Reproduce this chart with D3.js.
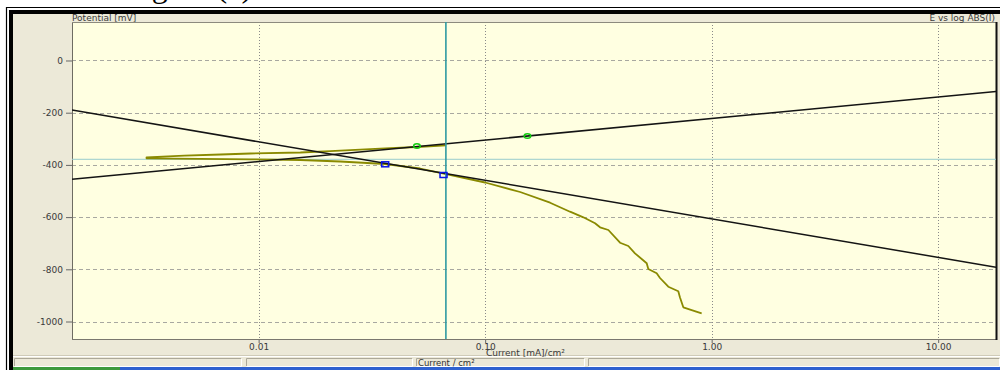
<!DOCTYPE html>
<html>
<head>
<meta charset="utf-8">
<script src="https://cdn.jsdelivr.net/npm/d3@7"></script>
<style>
  html, body { margin: 0; padding: 0; background: #ffffff; }
  svg { display: block; }
  .tick text { font-family: "DejaVu Sans", Verdana, sans-serif; font-size: 9px; fill: #3a3a3a; }
</style>
</head>
<body>
<svg id="chart" width="1000" height="370"></svg>
<script>
// Measured polarization curve: current density (mA/cm²) and potential (mV),
// running from the cathodic end up through the corrosion region to the anodic end.
const curveCurrent = [0.9034, 0.8161, 0.7497, 0.7248, 0.7123, 0.6436, 0.5915, 0.5718, 0.5252, 0.5167,
  0.4587, 0.4286, 0.3940, 0.3499, 0.3216, 0.3056, 0.2714, 0.2370, 0.1935, 0.1427,
  0.1000, 0.0673, 0.0516, 0.0362, 0.0229, 0.0153, 0.0092, 0.0055, 0.0032,
  0.0032, 0.0047, 0.0068, 0.0092, 0.0153, 0.0207, 0.0281, 0.0362, 0.0500, 0.0673];
const curvePotential = [-968.6, -956.0, -945.6, -908.0, -883.9, -866.7, -833.3, -815.3, -798.9, -777.0,
  -738.7, -710.7, -698.1, -649.4, -639.1, -623.8, -600.8, -579.3, -544.8, -503.8,
  -467.4, -434.9, -413.8, -396.6, -387.0, -381.2, -378.5, -376.6, -374.7,
  -370.9, -364.8, -360.2, -356.3, -352.5, -347.5, -341.8, -336.4, -331.4, -324.9];

// Tafel fit lines, given by their end points across the current range
const anodicCurrent = [0.0015, 18];
const anodicPotential = [-455, -119];
const cathodicCurrent = [0.0015, 18];
const cathodicPotential = [-190, -792];

// Points used for the fits
const anodicPointCurrent = [0.0500, 0.1537];
const anodicPointPotential = [-327.6, -289.3];
const cathodicPointCurrent = [0.0362, 0.0655];
const cathodicPointPotential = [-397.7, -438.7];

// Cursor lines
const cursorCurrent = [0.0671];
const cursorPotential = [-378.5];

// Axis ticks
const potentialTicks = [0, -200, -400, -600, -800, -1000];
const currentTicks = [0.01, 0.1, 1, 10];
const currentTickLabels = ["0.01", "0.10", "1.00", "10.00"];

const svg = d3.select("#chart");

// Page caption (only its lower edge lies inside the frame)
svg.append("text").attr("x", 125).attr("y", -3)
  .attr("font-family", "'Liberation Serif', 'Times New Roman', serif")
  .attr("font-size", 32).attr("fill", "#000").text("Figure (c)");

// Window frame
svg.append("line").attr("x1", 6).attr("x2", 1000).attr("y1", 7.5).attr("y2", 7.5).attr("stroke", "#000").attr("stroke-width", 1.2);
svg.append("line").attr("x1", 6.5).attr("x2", 6.5).attr("y1", 7).attr("y2", 370).attr("stroke", "#000").attr("stroke-width", 1.2);
svg.append("rect").attr("x", 9).attr("y", 10).attr("width", 991).attr("height", 360).attr("fill", "#000");
svg.append("rect").attr("x", 13).attr("y", 14).attr("width", 987).attr("height", 353).attr("fill", "#ece9d8");

// Status bar
svg.append("line").attr("x1", 13).attr("x2", 1000).attr("y1", 355.5).attr("y2", 355.5).attr("stroke", "#cfcbb8");
svg.append("line").attr("x1", 13).attr("x2", 1000).attr("y1", 356.5).attr("y2", 356.5).attr("stroke", "#ffffff");
const panels = [[14, 242], [246, 413], [416, 585], [588, 1000]];
panels.forEach(([a, b]) => {
  svg.append("path").attr("d", `M${a + 0.5},366 V358.5 H${b - 0.5}`).attr("fill", "none").attr("stroke", "#aca899");
  svg.append("path").attr("d", `M${b - 0.5},358.5 V366.5 H${a + 0.5}`).attr("fill", "none").attr("stroke", "#ffffff");
});
svg.append("text").attr("x", 418).attr("y", 365.5)
  .attr("font-family", "'DejaVu Sans', Verdana, sans-serif").attr("font-size", 8.5).attr("fill", "#333")
  .text("Current / cm²");
svg.append("rect").attr("x", 13).attr("y", 367).attr("width", 107).attr("height", 3).attr("fill", "#3d9a3d");
svg.append("rect").attr("x", 120).attr("y", 367).attr("width", 880).attr("height", 3).attr("fill", "#2f62d0");

// Plot area
const plot = { left: 72, right: 996, top: 22, bottom: 339 };
const x = d3.scaleLog().domain([0.0015, 18]).range([plot.left, plot.right]);
const y = d3.scaleLinear().domain([-1067, 147.5]).range([plot.bottom, plot.top]);

svg.append("rect").attr("x", plot.left).attr("y", plot.top)
  .attr("width", plot.right - plot.left).attr("height", plot.bottom - plot.top)
  .attr("fill", "#ffffe1");

svg.append("defs").append("clipPath").attr("id", "plotClip")
  .append("rect").attr("x", plot.left).attr("y", plot.top)
  .attr("width", plot.right - plot.left).attr("height", plot.bottom - plot.top);

// Grid
const grid = svg.append("g");
grid.selectAll("line.h").data(potentialTicks).join("line")
  .attr("x1", plot.left).attr("x2", plot.right)
  .attr("y1", d => Math.round(y(d)) + 0.5).attr("y2", d => Math.round(y(d)) + 0.5)
  .attr("stroke", "#a8a8a0").attr("stroke-dasharray", "4,3");
grid.selectAll("line.v").data(currentTicks).join("line")
  .attr("x1", d => Math.round(x(d)) + 0.5).attr("x2", d => Math.round(x(d)) + 0.5)
  .attr("y1", plot.top).attr("y2", plot.bottom)
  .attr("stroke", "#8a8a8a").attr("stroke-dasharray", "1,2");

// Axes
const yAxis = svg.append("g").attr("transform", `translate(${plot.left},0)`)
  .call(d3.axisLeft(y).tickValues(potentialTicks).tickSize(6).tickPadding(3).tickFormat(d => String(d)));
yAxis.select(".domain").remove();
yAxis.selectAll(".tick line").attr("stroke", "#666");

const xAxis = svg.append("g").attr("transform", `translate(0,${plot.bottom})`)
  .call(d3.axisBottom(x).tickValues(currentTicks).tickSize(4).tickPadding(1)
    .tickFormat((d, i) => currentTickLabels[i]));
xAxis.select(".domain").remove();
xAxis.selectAll(".tick line").attr("stroke", "#666");

// Plot frame
svg.append("line").attr("x1", plot.left + 0.5).attr("x2", plot.left + 0.5).attr("y1", plot.top).attr("y2", plot.bottom + 1).attr("stroke", "#6e6c62");
svg.append("line").attr("x1", plot.left).attr("x2", plot.right).attr("y1", plot.top + 0.5).attr("y2", plot.top + 0.5).attr("stroke", "#8c8a7e");
svg.append("line").attr("x1", plot.left).attr("x2", plot.right).attr("y1", plot.bottom + 0.5).attr("y2", plot.bottom + 0.5).attr("stroke", "#7a786e");
svg.append("line").attr("x1", plot.right + 0.5).attr("x2", plot.right + 0.5).attr("y1", plot.top).attr("y2", plot.bottom + 1).attr("stroke", "#111").attr("stroke-width", 2);

// Titles
const labelFont = "'DejaVu Sans', Verdana, sans-serif";
svg.append("text").attr("x", plot.left).attr("y", 20.5)
  .attr("font-family", labelFont).attr("font-size", 9).attr("fill", "#3a3a3a").text("Potential [mV]");
svg.append("text").attr("x", 995).attr("y", 20.5).attr("text-anchor", "end")
  .attr("font-family", labelFont).attr("font-size", 9).attr("fill", "#3a3a3a").text("E vs log ABS(I)");
svg.append("text").attr("x", 486).attr("y", 356)
  .attr("font-family", labelFont).attr("font-size", 9).attr("fill", "#3a3a3a").text("Current [mA]/cm²");

// Data layer
const layer = svg.append("g").attr("clip-path", "url(#plotClip)");

// Cursors
layer.append("line").attr("x1", plot.left).attr("x2", plot.right)
  .attr("y1", y(cursorPotential[0])).attr("y2", y(cursorPotential[0]))
  .attr("stroke", "#98cccc").attr("stroke-width", 1);

const line = d3.line().x(d => x(d[0])).y(d => y(d[1]));
const zip = (a, b) => a.map((v, i) => [v, b[i]]);

// Measured curve
layer.append("path").datum(zip(curveCurrent, curvePotential))
  .attr("d", line).attr("fill", "none")
  .attr("stroke", "#8a8a00").attr("stroke-width", 1.8).attr("stroke-linejoin", "round");

// Tafel lines
[[anodicCurrent, anodicPotential], [cathodicCurrent, cathodicPotential]].forEach(([c, p]) => {
  layer.append("path").datum(zip(c, p)).attr("d", line)
    .attr("fill", "none").attr("stroke", "#141414").attr("stroke-width", 1.5);
});

layer.append("line")
  .attr("x1", x(cursorCurrent[0])).attr("x2", x(cursorCurrent[0]))
  .attr("y1", plot.top).attr("y2", plot.bottom)
  .attr("stroke", "#2f9aa2").attr("stroke-width", 1.6);

// Fit points
layer.selectAll("ellipse.fit").data(zip(anodicPointCurrent, anodicPointPotential)).join("ellipse")
  .attr("cx", d => x(d[0])).attr("cy", d => y(d[1])).attr("rx", 3.3).attr("ry", 2.3)
  .attr("fill", "none").attr("stroke", "#11cc11").attr("stroke-width", 1.5);
layer.selectAll("rect.fit").data(zip(cathodicPointCurrent, cathodicPointPotential)).join("rect")
  .attr("x", d => x(d[0]) - 3.5).attr("y", d => y(d[1]) - 2.5).attr("width", 7).attr("height", 5)
  .attr("fill", "none").attr("stroke", "#0a14e6").attr("stroke-width", 1.5);
</script>
</body>
</html>
